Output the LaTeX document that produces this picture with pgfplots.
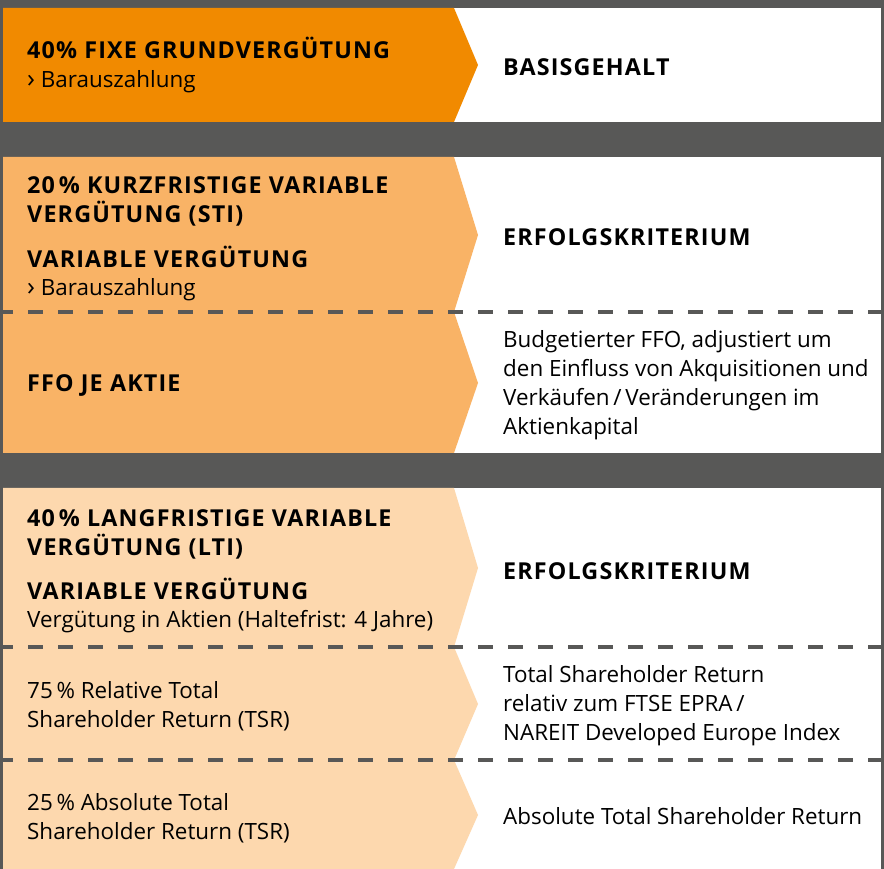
\documentclass[border=0pt]{standalone}
\usepackage{fontspec}
\setmainfont{Open Sans}
\usepackage{pgfplots}
\pgfplotsset{compat=1.18}
\definecolor{bggrey}{HTML}{585857}
\definecolor{orA}{HTML}{F18A00}
\definecolor{orB}{HTML}{F9B366}
\definecolor{orC}{HTML}{FDD8AE}
\begin{document}
\begin{tikzpicture}
\begin{axis}[
  width=884pt, height=869pt, scale only axis,
  xmin=0, xmax=884, ymin=0, ymax=869,
  hide axis, clip=false,
]
% background
\addplot[fill=bggrey, draw=none] coordinates {(0,0) (884,0) (884,869) (0,869)} --cycle;
% panel 1 (y 8..122 in px from top)
\addplot[fill=white, draw=none] coordinates {(3,747) (881,747) (881,861) (3,861)} --cycle;
\addplot[fill=orA, draw=none] coordinates {(3,747) (454,747) (478,804) (454,861) (3,861)} --cycle;
% panel 2 (y 157..453)
\addplot[fill=white, draw=none] coordinates {(3,416) (881,416) (881,712) (3,712)} --cycle;
\addplot[fill=orB, draw=none] coordinates {(3,557) (454,557) (478,634) (454,712) (3,712)} --cycle;
\addplot[fill=orB, draw=none] coordinates {(3,416) (454,416) (478,486) (454,557) (3,557)} --cycle;
% panel 3 (y 488..869)
\addplot[fill=white, draw=none] coordinates {(3,0) (881,0) (881,381) (3,381)} --cycle;
\addplot[fill=orC, draw=none] coordinates {(3,222) (454,222) (478,301) (454,381) (3,381)} --cycle;
\addplot[fill=orC, draw=none] coordinates {(3,109) (454,109) (478,165) (454,222) (3,222)} --cycle;
\addplot[fill=orC, draw=none] coordinates {(3,0) (454,0) (478,54) (454,109) (3,109)} --cycle;
% dashed separators
\addplot[bggrey, line width=3.5pt, dash pattern=on 15pt off 15pt, dash phase=5pt] coordinates {(3,557) (881,557)};
\addplot[bggrey, line width=3.5pt, dash pattern=on 15pt off 15pt, dash phase=5pt] coordinates {(3,222) (881,222)};
\addplot[bggrey, line width=3.5pt, dash pattern=on 15pt off 15pt, dash phase=5pt] coordinates {(3,109) (881,109)};
% texts
\tikzset{lt/.style={anchor=base west, inner sep=0pt, font=\fontsize{22.4}{26}\selectfont}, bt/.style={lt, font=\fontsize{23.3}{26}\selectfont\bfseries\addfontfeature{LetterSpace=5}}}
\newcommand{\chev}{{\fontsize{26}{26}\selectfont ›}}
% panel 1
\node[bt] at (axis cs:27,810) {40\% FIXE GRUNDVERGÜTUNG};
\node[lt] at (axis cs:27,781) {\chev\ Barauszahlung};
\node[bt] at (axis cs:503,793) {BASISGEHALT};
% panel 2
\node[bt] at (axis cs:27,675) {20\,\% KURZFRISTIGE VARIABLE};
\node[bt] at (axis cs:27,646) {VERGÜTUNG (STI)};
\node[bt] at (axis cs:27,601) {VARIABLE VERGÜTUNG};
\node[lt] at (axis cs:27,573) {\chev\ Barauszahlung};
\node[bt] at (axis cs:503,623) {ERFOLGSKRITERIUM};
\node[bt] at (axis cs:27,477) {FFO JE AKTIE};
\node[lt] at (axis cs:503,521) {Budgetierter FFO, adjustiert um};
\node[lt] at (axis cs:503,492) {den Einfluss von Akquisitionen und};
\node[lt] at (axis cs:503,463) {Verkäufen\,/\,Veränderungen im};
\node[lt] at (axis cs:503,434) {Aktienkapital};
% panel 3
\node[bt] at (axis cs:27,342) {40\,\% LANGFRISTIGE VARIABLE};
\node[bt] at (axis cs:27,313) {VERGÜTUNG (LTI)};
\node[bt] at (axis cs:27,269) {VARIABLE VERGÜTUNG};
\node[lt] at (axis cs:27,241) {Vergütung in Aktien (Haltefrist: 4 Jahre)};
\node[bt] at (axis cs:503,289) {ERFOLGSKRITERIUM};
\node[lt] at (axis cs:27,170) {75\,\% Relative Total};
\node[lt] at (axis cs:27,141) {Shareholder Return (TSR)};
\node[lt] at (axis cs:503,186) {Total Shareholder Return};
\node[lt] at (axis cs:503,157) {relativ zum FTSE EPRA\,/};
\node[lt] at (axis cs:503,128) {NAREIT Developed Europe Index};
\node[lt] at (axis cs:27,58) {25\,\% Absolute Total};
\node[lt] at (axis cs:27,29) {Shareholder Return (TSR)};
\node[lt] at (axis cs:503,44) {Absolute Total Shareholder Return};
\end{axis}
\end{tikzpicture}
\end{document}
